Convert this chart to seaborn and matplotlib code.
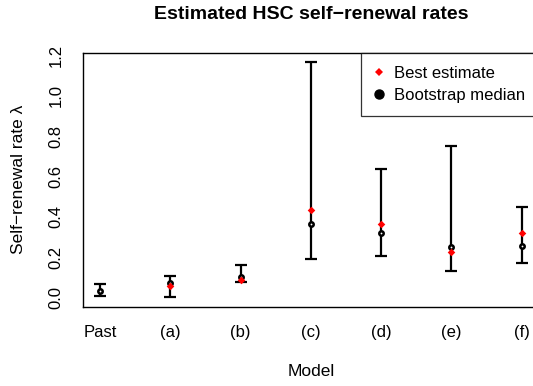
import numpy as np
import matplotlib
matplotlib.use("Agg")
import matplotlib.pyplot as plt
import seaborn as sns
from matplotlib.lines import Line2D

models = ["Past", "(a)", "(b)", "(c)", "(d)", "(e)", "(f)"]
best_estimate = [np.nan, 0.058, 0.088, 0.434, 0.363, 0.225, 0.319]
boot_median = [0.032, 0.071, 0.104, 0.365, 0.322, 0.252, 0.254]
ci_lower = [0.007, 0.002, 0.076, 0.193, 0.206, 0.132, 0.173]
ci_upper = [0.069, 0.109, 0.162, 1.167, 0.639, 0.749, 0.450]
yticks = [0.0, 0.2, 0.4, 0.6, 0.8, 1.0, 1.2]

sns.set_style("white")
plt.rcParams["font.family"] = ["Liberation Sans", "DejaVu Sans"]
plt.rcParams["axes.unicode_minus"] = True
plt.rcParams["text.color"] = "black"
plt.rcParams["axes.labelcolor"] = "black"
plt.rcParams["xtick.color"] = "black"
plt.rcParams["ytick.color"] = "black"

W, H = 533, 386
fig = plt.figure(figsize=(W / 100, H / 100), dpi=100)
left, right, top, bottom = 83.3, 538.6, 52.7, 306.7
ax = fig.add_axes([left / W, 1 - bottom / H, (right - left) / W, (bottom - top) / H])

pos = np.arange(len(models))
med = np.array(boot_median)
lo = np.array(ci_lower)
hi = np.array(ci_upper)

ax.errorbar(pos, med, yerr=[med - lo, hi - med], fmt="none", ecolor="black",
            elinewidth=1.6, capsize=4.6, capthick=1.6, zorder=2)

sns.scatterplot(x=pos, y=boot_median, ax=ax, marker="o", s=10,
                facecolor="white", edgecolor="black", linewidth=1.8, zorder=3)
sns.scatterplot(x=pos, y=best_estimate, ax=ax, marker="D", s=15,
                color="red", linewidth=0, zorder=4)

ax.set_xlim(-0.24, len(models) - 1 + 0.24)
ax.set_ylim(-0.0446, 1.2136)
ax.set_xticks(pos)
ax.set_xticklabels(models)
ax.set_yticks(yticks)
ax.set_yticklabels([f"{v:.1f}" for v in yticks], rotation=90, va="center")

for s in ax.spines.values():
    s.set_visible(True)
    s.set_color("black")
    s.set_linewidth(1.0)

ax.tick_params(axis="both", direction="out", length=5, width=0.9,
               color="black", labelsize=12, labelcolor="black")
ax.tick_params(axis="x", pad=8)
ax.tick_params(axis="y", pad=9)

ax.set_xlabel("Model", fontsize=12.5, va="center", color="black")
ax.xaxis.set_label_coords(0.5, -0.257)
ax.set_ylabel("Self\u2212renewal rate \u03bb", fontsize=12.5, va="center", color="black")
ax.yaxis.set_label_coords(-0.1434, 0.5)

fig.text(311 / W, 1 - 14.5 / H, "Estimated HSC self\u2212renewal rates",
         fontsize=14, fontweight="bold", ha="center", va="center", color="black")

handles = [
    Line2D([], [], linestyle="none", marker="D", markersize=4, color="red",
           markeredgewidth=0, label="Best estimate"),
    Line2D([], [], linestyle="none", marker="o", markersize=6.5, color="black",
           label="Bootstrap median"),
]
leg = ax.legend(handles=handles, loc="upper right", bbox_to_anchor=(1, 1),
                borderaxespad=0, fontsize=12, frameon=True, fancybox=False,
                edgecolor="black", handlelength=0.7, handletextpad=0.55,
                labelspacing=0.42, borderpad=0.78)
leg.get_frame().set_linewidth(0.9)
for t in leg.get_texts():
    t.set_color("black")

fig.savefig("out.png", dpi=100)
